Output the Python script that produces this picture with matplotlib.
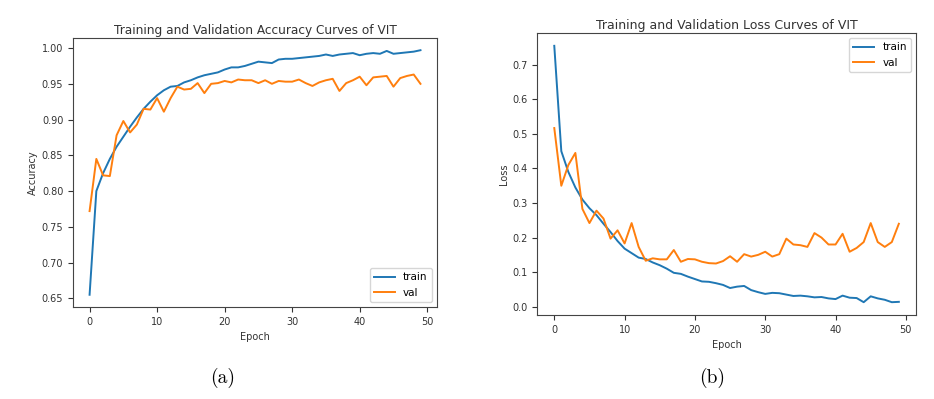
import numpy as np
import matplotlib.pyplot as plt

# accuracy per epoch
train_acc = [0.655, 0.800, 0.825, 0.845, 0.862, 0.876, 0.890, 0.903, 0.915, 0.925,
             0.934, 0.941, 0.946, 0.947, 0.952, 0.955, 0.959, 0.962, 0.964, 0.966,
             0.970, 0.973, 0.973, 0.975, 0.978, 0.981, 0.980, 0.979, 0.984, 0.985,
             0.985, 0.986, 0.987, 0.988, 0.989, 0.991, 0.989, 0.991, 0.992, 0.993,
             0.990, 0.992, 0.993, 0.992, 0.996, 0.992, 0.993, 0.994, 0.995, 0.997]
val_acc = [0.772, 0.845, 0.822, 0.821, 0.878, 0.898, 0.882, 0.893, 0.915, 0.914,
           0.930, 0.911, 0.930, 0.946, 0.942, 0.943, 0.951, 0.937, 0.950, 0.951,
           0.954, 0.952, 0.956, 0.955, 0.955, 0.951, 0.955, 0.950, 0.954, 0.953,
           0.953, 0.956, 0.951, 0.947, 0.952, 0.955, 0.957, 0.940, 0.951, 0.955,
           0.960, 0.948, 0.959, 0.960, 0.961, 0.946, 0.958, 0.961, 0.963, 0.950]

# loss per epoch
train_loss = [0.755, 0.450, 0.390, 0.345, 0.310, 0.285, 0.265, 0.240, 0.216, 0.190,
              0.168, 0.155, 0.142, 0.138, 0.128, 0.120, 0.110, 0.098, 0.095, 0.087,
              0.080, 0.073, 0.072, 0.068, 0.063, 0.054, 0.058, 0.060, 0.048, 0.042,
              0.037, 0.040, 0.039, 0.035, 0.031, 0.032, 0.030, 0.027, 0.028, 0.024,
              0.022, 0.032, 0.026, 0.025, 0.013, 0.030, 0.024, 0.020, 0.013, 0.014]
val_loss = [0.517, 0.350, 0.410, 0.445, 0.283, 0.242, 0.278, 0.255, 0.197, 0.221,
            0.183, 0.242, 0.173, 0.133, 0.140, 0.137, 0.137, 0.164, 0.130, 0.138,
            0.137, 0.130, 0.126, 0.125, 0.132, 0.146, 0.130, 0.152, 0.145, 0.150,
            0.159, 0.145, 0.152, 0.197, 0.180, 0.178, 0.173, 0.213, 0.200, 0.180,
            0.180, 0.211, 0.159, 0.170, 0.187, 0.242, 0.187, 0.173, 0.187, 0.240]

epochs = np.arange(len(train_acc))

fig = plt.figure(figsize=(9.34, 3.99), dpi=100)

ax1 = fig.add_axes([0.0782, 0.2306, 0.3897, 0.6742])
ax2 = fig.add_axes([0.575, 0.2105, 0.4058, 0.7068])

ax1.plot(epochs, train_acc, label="train", linewidth=1.4)
ax1.plot(epochs, val_acc, label="val", linewidth=1.4)
ax1.set_title("Training and Validation Accuracy Curves of VIT", fontsize=8.7, pad=3, color="#333333")
ax1.set_xlabel("Epoch", fontsize=7)
ax1.set_ylabel("Accuracy", fontsize=7, labelpad=3)
ax1.legend(loc="lower right", fontsize=7.5)

ax2.plot(epochs, train_loss, label="train", linewidth=1.4)
ax2.plot(epochs, val_loss, label="val", linewidth=1.4)
ax2.set_title("Training and Validation Loss Curves of VIT", fontsize=9, pad=3, color="#333333")
ax2.set_xlabel("Epoch", fontsize=7)
ax2.set_ylabel("Loss", fontsize=7, labelpad=2)
ax2.legend(loc="upper right", fontsize=7.5)

for ax in (ax1, ax2):
    ax.tick_params(labelsize=7, colors="#333333")
    ax.xaxis.label.set_color("#333333")
    ax.yaxis.label.set_color("#333333")
    for s in ax.spines.values():
        s.set_color("#444444")

fig.text(0.238, 0.053, "(a)", fontfamily="cmr10", fontsize=14, ha="center", va="center")
fig.text(0.762, 0.053, "(b)", fontfamily="cmr10", fontsize=14, ha="center", va="center")

fig.savefig("out.png", dpi=100)
